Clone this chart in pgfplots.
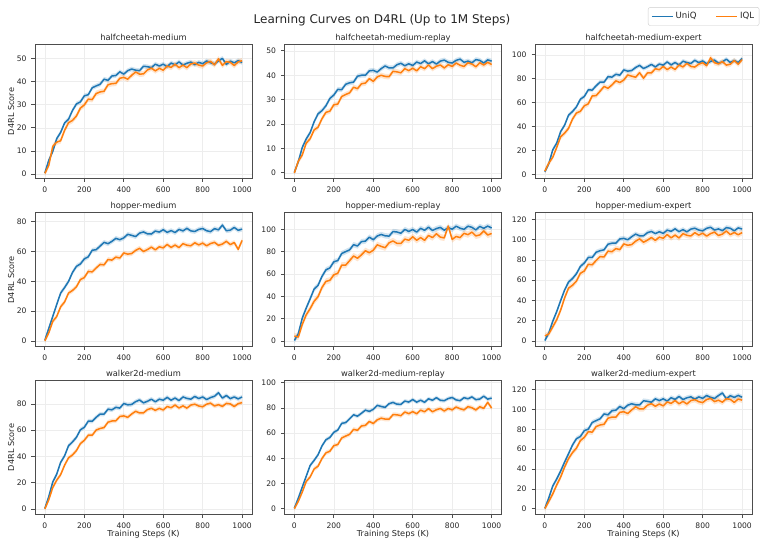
\documentclass[border=0pt]{standalone}
\usepackage{fontspec}
\setmainfont{DejaVu Sans}
\usepackage{pgfplots}
\usepackage{pgfplotstable}
\pgfplotsset{compat=1.18}
\usepgfplotslibrary{fillbetween}

\definecolor{cuniq}{HTML}{1F77B4}
\definecolor{ciql}{HTML}{FF7F0E}
\definecolor{framegray}{HTML}{4D4D4D}
\definecolor{gridgray}{HTML}{EDEDED}
\definecolor{legframe}{HTML}{CCCCCC}
\definecolor{txt}{HTML}{262626}

% columns: step (K), UniQ mean, IQL mean
\pgfplotstableread{
x u q
0 0.5 0.3
20 6.0 3.8
40 9.8 12.0
60 15.3 13.8
80 18.0 14.4
100 22.1 18.9
120 23.7 22.2
140 27.5 23.2
160 30.3 25.1
180 31.2 28.5
200 33.8 29.9
220 34.3 32.4
240 37.3 32.2
260 38.1 34.8
280 38.8 35.5
300 41.0 35.8
320 40.5 38.6
340 42.4 39.1
360 42.6 39.2
380 44.2 41.4
400 43.2 41.8
420 44.7 41.0
440 45.4 42.7
460 44.9 44.1
480 44.7 43.2
500 46.6 43.3
520 46.4 45.0
540 46.0 45.8
560 47.5 44.6
580 46.7 45.7
600 47.5 44.9
620 46.4 46.7
640 48.0 46.1
660 47.2 47.5
680 48.5 46.0
700 47.1 47.1
720 47.9 46.0
740 48.4 47.6
760 47.3 48.0
780 48.3 47.1
800 47.7 46.7
820 48.9 48.1
840 48.1 48.7
860 47.6 47.2
880 48.9 49.8
900 50.0 47.0
920 47.4 48.6
940 48.8 48.3
960 48.1 46.9
980 49.0 48.5
1000 48.2 49.0
}\hcm

\pgfplotstableread{
x u q
0 0.2 0.0
20 4.6 4.8
40 10.4 7.3
60 13.9 12.2
80 16.5 14.0
100 20.9 17.6
120 24.2 18.7
140 25.5 22.2
160 27.5 24.8
180 30.5 25.3
200 31.9 27.9
220 34.2 28.2
240 34.1 31.3
260 36.3 32.1
280 36.9 32.8
300 37.2 35.1
320 39.6 34.5
340 40.0 36.5
360 40.0 36.8
380 41.8 38.6
400 42.0 37.5
420 41.3 39.3
440 42.7 40.0
460 43.8 39.5
480 43.0 39.4
500 43.0 41.6
520 44.3 41.4
540 44.9 41.0
560 43.9 42.7
580 44.7 41.9
600 44.0 42.9
620 45.4 41.8
640 44.8 43.5
660 45.9 42.7
680 44.7 44.2
700 45.6 42.7
720 44.6 43.7
740 45.8 44.2
760 46.2 43.0
780 45.3 44.3
800 45.0 43.6
820 46.1 45.0
840 46.6 44.1
860 45.3 43.6
880 45.8 45.1
900 45.1 44.6
920 46.4 43.5
940 46.1 45.1
960 45.0 44.2
980 46.3 45.3
1000 45.8 44.4
}\hcmr

\pgfplotstableread{
x u q
0 2.5 3.0
20 9.3 9.8
40 20.8 14.6
60 26.4 22.8
80 36.0 31.7
100 41.3 34.7
120 49.7 38.7
140 52.7 46.4
160 56.6 51.5
180 63.0 52.9
200 65.3 57.5
220 70.8 59.1
240 70.6 65.7
260 74.2 66.0
280 77.3 69.7
300 77.2 73.6
320 81.8 72.1
340 81.4 74.9
360 83.8 78.3
380 83.0 76.9
400 87.4 79.0
420 86.4 83.2
440 86.9 82.2
460 89.4 81.3
480 91.2 85.1
500 88.6 80.5
520 90.1 84.9
540 92.0 84.9
560 89.9 88.4
580 92.3 87.6
600 91.4 90.3
620 94.1 87.7
640 91.6 89.8
660 93.6 87.8
680 91.5 91.5
700 94.7 89.9
720 93.5 92.9
740 92.8 90.3
760 95.4 89.8
780 93.5 92.2
800 94.9 93.4
820 92.6 90.9
840 94.5 97.5
860 95.6 93.4
880 93.0 92.4
900 94.1 94.4
920 96.4 91.4
940 93.6 92.2
960 95.3 95.2
980 93.5 92.2
1000 97.0 96.0
}\hcme

\pgfplotstableread{
x u q
0 0.5 0.2
20 8.5 5.6
40 16.5 13.2
60 24.5 16.4
80 32.2 23.0
100 35.9 26.2
120 40.0 32.2
140 46.0 33.9
160 50.1 36.4
180 51.7 41.2
200 55.1 42.6
220 56.5 46.7
240 60.9 46.4
260 61.3 49.0
280 63.7 51.4
300 66.2 51.1
320 65.3 54.7
340 66.9 54.3
360 68.9 56.3
380 68.0 55.7
400 69.2 59.1
420 71.6 58.3
440 70.9 58.7
460 70.1 60.8
480 72.4 62.2
500 73.2 60.1
520 71.9 61.4
540 71.8 63.0
560 73.8 61.2
580 73.1 63.2
600 74.7 62.5
620 72.9 64.8
640 74.1 62.8
660 72.8 64.4
680 74.9 62.7
700 73.9 65.3
720 75.6 64.3
740 73.9 63.9
760 73.5 65.9
780 74.9 64.5
800 75.5 65.7
820 74.0 63.9
840 73.4 65.4
860 75.4 66.2
880 74.6 64.2
900 77.8 65.1
920 74.0 66.9
940 74.4 64.7
960 76.2 66.1
980 74.3 61.5
1000 75.1 67.5
}\hm

\pgfplotstableread{
x u q
0 0.5 4.5
20 6.5 3.5
40 20.5 14.8
60 29.5 23.5
80 37.8 29.0
100 46.5 35.6
120 49.9 39.7
140 57.9 48.0
160 63.8 53.4
180 65.5 54.4
200 71.0 59.3
220 72.1 60.7
240 78.4 68.0
260 80.1 68.0
280 81.7 72.0
300 86.3 76.2
320 85.2 74.2
340 89.1 77.2
360 89.5 80.9
380 93.1 79.1
400 90.8 81.4
420 94.1 86.2
440 95.5 84.8
460 94.3 83.6
480 94.0 88.0
500 98.1 89.7
520 97.7 87.5
540 96.6 87.4
560 100.0 91.3
580 98.2 90.3
600 99.9 93.4
620 97.6 90.3
640 101.0 92.7
660 99.2 90.3
680 102.1 94.6
700 99.0 92.7
720 100.8 96.1
740 101.8 93.1
760 99.3 92.4
780 101.6 103.0
800 100.2 91.0
820 102.9 93.7
840 101.1 92.7
860 100.1 96.5
880 102.9 95.3
900 101.9 97.6
920 99.6 94.2
940 102.7 95.1
960 101.0 98.6
980 103.0 95.0
1000 101.3 96.4
}\hmr

\pgfplotstableread{
x u q
0 0.5 5.0
20 8.0 7.0
40 19.5 14.0
60 29.0 21.0
80 39.9 30.5
100 50.3 42.5
120 58.2 52.2
140 61.6 55.0
160 66.4 59.1
180 73.6 66.8
200 77.0 69.1
220 82.4 75.7
240 82.4 75.2
260 87.6 79.5
280 89.1 83.3
300 90.0 82.9
320 95.5 88.7
340 96.5 88.1
360 96.6 91.2
380 100.7 90.2
400 101.3 95.8
420 99.9 94.5
440 102.9 95.1
460 105.5 98.5
480 103.8 100.8
500 103.8 97.5
520 106.9 99.5
540 108.1 102.1
560 106.0 99.3
580 107.8 102.5
600 106.2 101.4
620 109.4 105.0
640 108.2 101.8
660 110.7 104.5
680 107.9 101.7
700 109.9 105.9
720 107.7 104.3
740 110.4 103.6
760 111.3 106.9
780 109.5 104.5
800 108.7 106.4
820 111.2 103.5
840 112.2 106.0
860 109.5 107.4
880 110.6 104.1
900 108.9 105.5
920 111.9 108.5
940 111.2 105.0
960 108.7 107.1
980 111.6 104.8
1000 110.5 107.0
}\hme

\pgfplotstableread{
x u q
0 0.5 0.2
20 9.6 7.2
40 20.6 16.4
60 26.5 22.0
80 35.5 26.2
100 40.5 33.4
120 48.2 39.0
140 51.1 41.2
160 54.6 44.5
180 60.3 49.8
200 62.2 52.3
220 66.9 56.2
240 66.8 56.2
260 69.8 60.1
280 72.3 61.3
300 72.2 62.0
320 76.0 66.1
340 75.5 67.0
360 77.4 67.2
380 76.8 70.4
400 80.3 70.9
420 79.3 69.8
440 79.6 72.3
460 81.7 74.4
480 83.0 73.1
500 80.8 73.2
520 82.0 75.7
540 83.6 76.7
560 81.6 75.1
580 83.6 76.6
600 82.8 75.4
620 85.0 78.0
640 82.8 77.1
660 84.5 79.1
680 82.5 76.9
700 85.3 78.5
720 84.2 76.8
740 83.6 79.1
760 85.7 79.8
780 84.1 78.4
800 85.3 77.8
820 83.3 79.8
840 84.8 80.6
860 85.8 78.4
880 88.5 79.4
900 84.4 78.1
920 86.4 80.4
940 84.0 80.0
960 85.3 78.0
980 83.8 80.2
1000 85.3 81.0
}\wm

\pgfplotstableread{
x u q
0 0.5 0.2
20 8.5 6.0
40 17.2 13.3
60 25.8 21.7
80 34.4 25.3
100 38.4 31.6
120 42.9 33.8
140 49.9 39.9
160 54.8 44.4
180 56.6 45.7
200 60.7 50.1
220 62.5 51.0
240 67.8 56.2
260 68.4 57.7
280 71.4 59.1
300 74.6 63.0
320 73.5 62.3
340 75.8 65.7
360 78.3 66.2
380 77.3 69.3
400 78.9 67.7
420 82.1 70.6
440 81.2 71.9
460 80.5 71.2
480 83.4 71.1
500 84.4 74.7
520 83.0 74.6
540 82.9 73.9
560 85.5 76.8
580 84.7 75.5
600 86.7 77.1
620 84.6 75.4
640 86.2 78.3
660 84.5 77.0
680 87.3 79.5
700 86.1 77.0
720 88.2 78.6
740 86.1 79.6
760 85.8 77.6
780 87.5 79.6
800 88.3 78.5
820 86.4 80.8
840 85.8 79.4
860 88.2 78.5
880 87.3 81.1
900 88.8 80.2
920 86.6 78.4
940 87.1 81.0
960 89.4 79.7
980 87.0 84.5
1000 87.9 79.9
}\wmr

\pgfplotstableread{
x u q
0 0.5 0.3
20 11.0 7.5
40 22.9 15.0
60 30.0 24.0
80 38.0 32.0
100 47.0 42.0
120 55.4 50.5
140 64.1 56.5
160 70.5 61.0
180 72.7 68.6
200 78.6 71.9
220 80.1 77.5
240 86.8 77.1
260 88.7 82.7
280 90.5 84.3
300 95.4 85.0
320 94.5 91.1
340 98.6 92.2
360 99.2 92.2
380 102.9 97.0
400 100.7 97.6
420 104.2 95.8
440 105.6 99.4
460 104.6 102.6
480 104.4 100.4
500 108.6 100.5
520 108.1 104.2
540 107.2 105.7
560 110.6 103.1
580 108.8 105.4
600 110.6 103.5
620 108.3 107.4
640 111.7 106.0
660 110.0 108.9
680 113.0 105.6
700 109.9 108.0
720 111.6 105.4
740 112.6 108.8
760 110.2 109.8
780 112.5 107.7
800 111.1 106.8
820 113.9 109.9
840 112.0 111.0
860 111.0 107.8
880 113.9 109.2
900 116.5 107.2
920 110.6 110.7
940 113.7 110.0
960 112.0 107.0
980 114.0 110.4
1000 112.2 109.2
}\wme

% mean curves with a +/- one-std band; #2 and #3 are the std of UniQ and IQL
\newcommand{\curves}[3]{%
  \addplot[name path=uh, draw=none, forget plot] table[x=x, y expr=\thisrow{u}+#2]{#1};
  \addplot[name path=ul, draw=none, forget plot] table[x=x, y expr=\thisrow{u}-#2]{#1};
  \addplot[fill=cuniq, fill opacity=0.2, draw=none, forget plot] fill between[of=uh and ul];
  \addplot[cuniq, line width=1.5pt, line join=round, forget plot] table[x=x, y=u]{#1};
  \addplot[name path=qh, draw=none, forget plot] table[x=x, y expr=\thisrow{q}+#3]{#1};
  \addplot[name path=ql, draw=none, forget plot] table[x=x, y expr=\thisrow{q}-#3]{#1};
  \addplot[fill=ciql, fill opacity=0.2, draw=none, forget plot] fill between[of=qh and ql];
  \addplot[ciql, line width=1.5pt, line join=round, forget plot] table[x=x, y=q]{#1};
}

\pgfplotsset{
  panel/.style={
    anchor=south west,
    width=217pt, height=134pt, scale only axis,
    xmin=-50, xmax=1050,
    xtick={0,200,...,1000},
    tick pos=left, tick align=outside,
    major tick length=3.5pt,
    tick style={draw=framegray, line width=0.8pt},
    axis line style={draw=framegray, line width=0.8pt},
    grid=major,
    major grid style={draw=gridgray, line width=0.6pt},
    tick label style={font=\fontsize{7.6}{9}\selectfont, text=txt},
    xticklabel style={yshift=-1.5pt},
    yticklabel style={xshift=-1.5pt},
    every axis title/.style={at={(0.5,1)}, anchor=base, yshift=3.8pt,
      font=\fontsize{8.3}{10}\selectfont, text=txt},
    every axis y label/.style={at={(axis description cs:-0.11,0.5)}, rotate=90,
      anchor=center, font=\fontsize{8.2}{10}\selectfont, text=txt},
    every axis x label/.style={at={(axis description cs:0.5,-0.166)},
      anchor=base, font=\fontsize{8.2}{10}\selectfont, text=txt},
    scaled ticks=false,
    /pgf/number format/assume math mode=true,
    /pgf/number format/1000 sep={},
  },
}

\begin{document}
\begin{tikzpicture}
\node[font=\fontsize{12}{14}\selectfont, text=txt, anchor=base] at (382pt,522.2pt)
  {Learning Curves on D4RL (Up to 1M Steps)};

% row 1
\begin{axis}[panel, at={(35pt,367.5pt)}, ymin=-1.9, ymax=56,
  ytick={0,10,...,50}, title={halfcheetah-medium}, ylabel={D4RL Score}]
\curves{\hcm}{1.0}{1.2}
\end{axis}
\begin{axis}[panel, at={(284.5pt,367.5pt)}, ymin=-2.3, ymax=52.6,
  ytick={0,10,...,50}, title={halfcheetah-medium-replay}]
\curves{\hcmr}{1.0}{1.1}
\end{axis}
\begin{axis}[panel, at={(535pt,367.5pt)}, ymin=-3.1, ymax=108.6,
  ytick={0,20,...,100}, title={halfcheetah-medium-expert},
  legend style={at={(1.034,1.278)}, anchor=north east, legend columns=2,
    draw=legframe, fill=white, rounded corners=2pt, text=txt,
    font=\fontsize{8.6}{10}\selectfont, inner xsep=3pt, inner ysep=3pt,
    /tikz/every even column/.append style={column sep=17pt}},
  legend image code/.code={\draw[#1, line width=1.5pt, rounded corners=0pt] (0pt,0pt) -- (21pt,0pt);}]
\curves{\hcme}{1.8}{2.2}
\addlegendimage{cuniq}
\addlegendentry{UniQ}
\addlegendimage{ciql}
\addlegendentry{IQL}
\end{axis}

% row 2
\begin{axis}[panel, at={(35pt,199.3pt)}, ymin=-3.8, ymax=86.1,
  ytick={0,20,...,80}, title={hopper-medium}, ylabel={D4RL Score}]
\curves{\hm}{1.6}{1.6}
\end{axis}
\begin{axis}[panel, at={(284.5pt,199.3pt)}, ymin=-5.1, ymax=115,
  ytick={0,20,...,100}, title={hopper-medium-replay}]
\curves{\hmr}{2.4}{2.8}
\end{axis}
\begin{axis}[panel, at={(535pt,199.3pt)}, ymin=-5.6, ymax=126.6,
  ytick={0,20,...,120}, title={hopper-medium-expert}]
\curves{\hme}{2.4}{2.8}
\end{axis}

% row 3
\begin{axis}[panel, at={(35pt,31.5pt)}, ymin=-4.1, ymax=97.8,
  ytick={0,20,...,80}, title={walker2d-medium}, ylabel={D4RL Score},
  xlabel={Training Steps (K)}]
\curves{\wm}{1.7}{1.7}
\end{axis}
\begin{axis}[panel, at={(284.5pt,31.5pt)}, ymin=-4.5, ymax=101.8,
  ytick={0,20,...,100}, title={walker2d-medium-replay},
  xlabel={Training Steps (K)}]
\curves{\wmr}{1.6}{1.8}
\end{axis}
\begin{axis}[panel, at={(535pt,31.5pt)}, ymin=-5.7, ymax=129,
  ytick={0,20,...,120}, title={walker2d-medium-expert},
  xlabel={Training Steps (K)}]
\curves{\wme}{2.4}{2.8}
\end{axis}

% page frame
\path (0pt,0pt) rectangle (767pt,546pt);
\end{tikzpicture}
\end{document}
